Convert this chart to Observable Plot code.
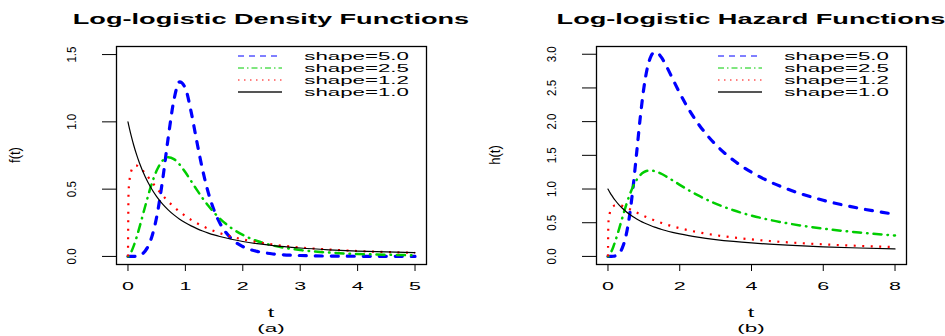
<!DOCTYPE html>
<html>
<head>
<meta charset="utf-8">
<script src="https://cdn.jsdelivr.net/npm/d3@7"></script>
<script src="https://cdn.jsdelivr.net/npm/@observablehq/plot@0.6"></script>
<style>
  html, body { margin: 0; padding: 0; background: #fff; overflow: hidden; }
  #page { position: relative; width: 945px; height: 336px; overflow: hidden; background: #fff; }
  .panel { position: absolute; top: 0; width: 480px; height: 336px; }
  svg { overflow: visible; }
</style>
</head>
<body>
<div id="page">
  <div class="panel" id="left" style="left:0px"></div>
  <div class="panel" id="right" style="left:480px"></div>
</div>
<script>
// ---------------- data ----------------
const shapeLabels = ["shape=5.0", "shape=2.5", "shape=1.2", "shape=1.0"];

const densityT = [0, 0.01, 0.03, 0.06, 0.1, 0.15, 0.2, 0.3, 0.4, 0.5, 0.6, 0.7, 0.8, 0.9, 1.0, 1.1, 1.2, 1.3, 1.4, 1.5, 1.6, 1.8, 2.0, 2.25, 2.5, 3.0, 3.5, 4.0, 4.5, 5.0];
const densityShape50 = [0, 0, 0, 0.0001, 0.0005, 0.0025, 0.008, 0.0403, 0.1254, 0.2938, 0.5579, 0.8799, 1.1618, 1.2968, 1.25, 1.0742, 0.852, 0.6429, 0.4722, 0.3427, 0.2484, 0.1326, 0.0735, 0.0372, 0.0201, 0.0068, 0.0027, 0.0012, 0.0006, 0.0003];
const densityShape25 = [0, 0.0025, 0.013, 0.0367, 0.0786, 0.1427, 0.2158, 0.3731, 0.5216, 0.6383, 0.7104, 0.7365, 0.7235, 0.6825, 0.625, 0.5602, 0.4947, 0.4326, 0.3759, 0.3256, 0.2817, 0.2112, 0.1596, 0.1143, 0.0835, 0.0472, 0.0286, 0.0184, 0.0124, 0.0086];
const densityShape12 = [0, 0.474, 0.5778, 0.6392, 0.6699, 0.6754, 0.6635, 0.6176, 0.5622, 0.5071, 0.4558, 0.4095, 0.3684, 0.3321, 0.3, 0.2718, 0.247, 0.2251, 0.2058, 0.1886, 0.1733, 0.1475, 0.1268, 0.1062, 0.09, 0.0666, 0.051, 0.0402, 0.0324, 0.0265];
const densityShape10 = [1, 0.9803, 0.9426, 0.89, 0.8264, 0.7561, 0.6944, 0.5917, 0.5102, 0.4444, 0.3906, 0.346, 0.3086, 0.277, 0.25, 0.2268, 0.2066, 0.189, 0.1736, 0.16, 0.1479, 0.1276, 0.1111, 0.0947, 0.0816, 0.0625, 0.0494, 0.04, 0.0331, 0.0278];

const hazardT = [0, 0.01, 0.03, 0.06, 0.1, 0.15, 0.2, 0.3, 0.4, 0.5, 0.6, 0.7, 0.8, 0.9, 1.0, 1.1, 1.2, 1.3, 1.4, 1.5, 1.6, 1.8, 2.0, 2.25, 2.5, 3.0, 3.5, 4.0, 4.5, 5.0, 6, 7, 8];
const hazardShape50 = [0, 0, 0, 0.0001, 0.0005, 0.0025, 0.008, 0.0404, 0.1267, 0.303, 0.6012, 1.0278, 1.5425, 2.0626, 2.5, 2.8042, 2.9722, 3.0301, 3.0115, 2.9455, 2.8529, 2.6382, 2.4242, 2.1844, 1.9797, 1.6598, 1.4258, 1.2488, 1.1105, 0.9997, 0.8332, 0.7142, 0.625];
const hazardShape25 = [0, 0.0025, 0.013, 0.0367, 0.0788, 0.144, 0.2197, 0.3915, 0.5743, 0.7511, 0.9085, 1.0384, 1.1376, 1.207, 1.25, 1.2711, 1.275, 1.266, 1.2477, 1.2229, 1.1938, 1.1291, 1.0622, 0.9818, 0.9081, 0.7831, 0.6844, 0.6061, 0.5429, 0.4912, 0.412, 0.3544, 0.3108];
const hazardShape12 = [0, 0.4758, 0.5864, 0.661, 0.7122, 0.7447, 0.7596, 0.7632, 0.7495, 0.7279, 0.7028, 0.6765, 0.6502, 0.6246, 0.6, 0.5766, 0.5545, 0.5336, 0.5139, 0.4954, 0.478, 0.4463, 0.418, 0.3871, 0.3601, 0.3156, 0.2805, 0.2522, 0.229, 0.2096, 0.1791, 0.1563, 0.1386];
const hazardShape10 = [1, 0.9901, 0.9709, 0.9434, 0.9091, 0.8696, 0.8333, 0.7692, 0.7143, 0.6667, 0.625, 0.5882, 0.5556, 0.5263, 0.5, 0.4762, 0.4545, 0.4348, 0.4167, 0.4, 0.3846, 0.3571, 0.3333, 0.3077, 0.2857, 0.25, 0.2222, 0.2, 0.1818, 0.1667, 0.1429, 0.125, 0.1111];

const densityTicksX = [0, 1, 2, 3, 4, 5];
const densityTicksY = [0, 0.5, 1.0, 1.5];
const hazardTicksX = [0, 2, 4, 6, 8];
const hazardTicksY = [0, 0.5, 1.0, 1.5, 2.0, 2.5, 3.0];

const titles = ["Log-logistic Density Functions", "Log-logistic Hazard Functions"];
const yLabels = ["f(t)", "h(t)"];
const xLabel = "t";
const subLabels = ["(a)", "(b)"];

// ---------------- styles ----------------
const curveStyles = [
  {color: "#0000ff", width: 3.2, dash: "7,9",         cap: "round"},
  {color: "#00cd00", width: 2.5, dash: "0.5,6,8,6",   cap: "round"},
  {color: "#ff0000", width: 2.2, dash: "2,6.5",       cap: "butt"},
  {color: "#000000", width: 1.2, dash: null,          cap: "round"}
];
const legendStyles = [
  {color: "#0000ff", width: 1,   dash: "6,5"},
  {color: "#00cd00", width: 1,   dash: "6,3,1.5,3"},
  {color: "#ff0000", width: 1,   dash: "1.5,4.5"},
  {color: "#555555", width: 1.8, dash: null}
];
const SX = 1.95; // horizontal stretch of upright text in the reference
const FONT = "'Liberation Sans', Arial, Helvetica, sans-serif";

function stretchText(nodes, factor) {
  nodes.forEach(n => {
    const w = n.getComputedTextLength();
    if (w > 0) {
      n.setAttribute("textLength", (w * factor).toFixed(2));
      n.setAttribute("lengthAdjust", "spacingAndGlyphs");
    }
  });
}

function makePanel(container, T, seriesValues, xDomain, yDomain, ticksX, ticksY, idx) {
  const marks = [
    Plot.frame({stroke: "black", strokeWidth: 1.3}),
    Plot.axisX({ticks: ticksX, tickSize: 7, tickPadding: 10.5, label: null, tickFormat: d => String(d)}),
    Plot.axisY({ticks: ticksY, tickSize: 14, tickPadding: 27, tickRotate: -90, label: null, tickFormat: d3.format(".1f")})
  ];
  seriesValues.forEach((vals, k) => {
    const rows = T.map((t, i) => ({t, v: vals[i]}));
    const s = curveStyles[k];
    marks.push(Plot.line(rows, {
      x: "t", y: "v", stroke: s.color, strokeWidth: s.width,
      strokeDasharray: s.dash || undefined, strokeLinecap: s.cap,
      curve: "monotone-x"
    }));
  });
  const svg = Plot.plot({
    width: 480, height: 336,
    marginLeft: 116, marginRight: 54, marginTop: 46, marginBottom: 72,
    style: {fontFamily: FONT, fontSize: "11px", background: "transparent", color: "black"},
    x: {domain: xDomain},
    y: {domain: yDomain},
    marks
  });
  container.appendChild(svg);
  const root = d3.select(svg);

  // tick label fonts
  svg.querySelectorAll('g[aria-label="x-axis tick label"] text').forEach(n => n.style.fontSize = "11px");
  svg.querySelectorAll('g[aria-label="y-axis tick label"] text').forEach(n => {
    n.style.fontSize = "11.5px";
    const tr = n.getAttribute("transform") || "";
    n.setAttribute("transform", tr + " scale(1,1.18)");
  });
  // stretch x tick labels horizontally like the reference
  stretchText(Array.from(svg.querySelectorAll('g[aria-label="x-axis tick label"] text')), SX);

  const cx = (116 + (480 - 54)) / 2;
  const added = [];
  // title
  const title = root.append("text").attr("x", cx).attr("y", 23.5).attr("text-anchor", "middle")
    .attr("font-family", FONT).attr("font-weight", "bold").attr("font-size", 15.5)
    .attr("fill", "black").text(titles[idx]).node();
  stretchText([title], 1.75);
  // x label and sub label
  added.push(root.append("text").attr("x", cx).attr("y", 317).attr("text-anchor", "middle")
    .attr("font-family", FONT).attr("font-size", 12).attr("fill", "black").text(xLabel).node());
  added.push(root.append("text").attr("x", cx).attr("y", 331.5).attr("text-anchor", "middle")
    .attr("font-family", FONT).attr("font-size", 11.5).attr("fill", "black").text(subLabels[idx]).node());
  // y label (rotated, only slightly widened)
  root.append("text").attr("transform", "translate(20,155) rotate(-90) scale(1,1.15)").attr("text-anchor", "middle")
    .attr("font-family", FONT).attr("font-size", 13).attr("fill", "black").text(yLabels[idx]);
  // legend
  const lg = root.append("g").attr("text-anchor", "start");
  const legendText = [];
  shapeLabels.forEach((lab, i) => {
    const y = 56 + 12 * i;
    const st = legendStyles[i];
    const ln = lg.append("line").attr("x1", 238).attr("x2", 282).attr("y1", y).attr("y2", y)
      .attr("stroke", st.color).attr("stroke-width", st.width);
    if (st.dash) ln.attr("stroke-dasharray", st.dash);
    legendText.push(lg.append("text").attr("x", 304.3).attr("y", y + 3.8).attr("text-anchor", "start")
      .attr("font-family", FONT).attr("font-size", 10.6).attr("fill", "black").text(lab).node());
  });
  stretchText(added, SX);
  stretchText(legendText, 2.1);
}

makePanel(document.getElementById("left"), densityT,
  [densityShape50, densityShape25, densityShape12, densityShape10],
  [-0.2, 5.2], [-0.06, 1.56], densityTicksX, densityTicksY, 0);
makePanel(document.getElementById("right"), hazardT,
  [hazardShape50, hazardShape25, hazardShape12, hazardShape10],
  [-0.32, 8.32], [-0.12, 3.115], hazardTicksX, hazardTicksY, 1);
</script>
</body>
</html>
